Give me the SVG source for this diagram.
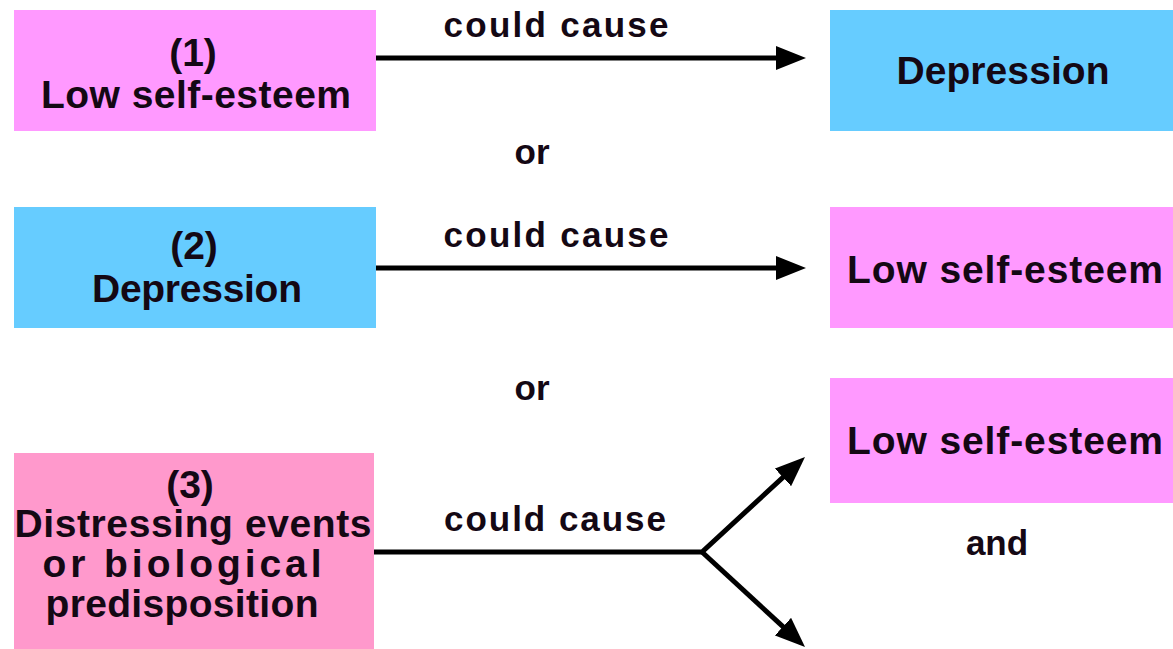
<svg xmlns="http://www.w3.org/2000/svg" width="1173" height="649" viewBox="0 0 1173 649">
<style>
text{font-family:"Liberation Sans",Arial,sans-serif;font-weight:bold;fill:#140814;text-anchor:middle}
.big{font-size:39px}
.lbl{font-size:35px}
.pink{fill:#FF99FF}
.blue{fill:#66CCFF}
.rose{fill:#FF99CC}
.conn{stroke:#000;stroke-width:5;fill:none;marker-end:url(#ah)}
</style>
<defs>
<marker id="ah" markerUnits="userSpaceOnUse" markerWidth="30" markerHeight="24" viewBox="0 0 30 24" refX="10" refY="12" orient="auto">
<path d="M0,0 L30,12 L0,24 Z" fill="#000"/>
</marker>
</defs>
<rect width="1173" height="649" fill="#fff"/>
<g id="node-1">
<rect class="pink" x="14" y="10" width="362" height="121"/>
<text class="big" x="193" y="66">(1)</text>
<text class="big" x="196" y="108" textLength="310" lengthAdjust="spacing">Low self-esteem</text>
</g>
<g id="node-depression-1">
<rect class="blue" x="830" y="10" width="343" height="121"/>
<text class="big" x="1003" y="84" textLength="213" lengthAdjust="spacing">Depression</text>
</g>
<g id="node-2">
<rect class="blue" x="14" y="207" width="362" height="121"/>
<text class="big" x="194" y="259">(2)</text>
<text class="big" x="197" y="302" textLength="210" lengthAdjust="spacing">Depression</text>
</g>
<g id="node-lse-2">
<rect class="pink" x="830" y="207" width="343" height="121"/>
<text class="big" x="1005" y="283" textLength="316" lengthAdjust="spacing">Low self-esteem</text>
</g>
<g id="node-3">
<rect class="rose" x="14" y="453" width="360" height="196"/>
<text class="big" x="190" y="498">(3)</text>
<text class="big" x="193" y="537" textLength="357" lengthAdjust="spacing">Distressing events</text>
<text class="big" x="182" y="577" textLength="279" lengthAdjust="spacing">or biological</text>
<text class="big" x="182" y="617" textLength="273" lengthAdjust="spacing">predisposition</text>
</g>
<g id="node-lse-3">
<rect class="pink" x="830" y="378" width="343" height="125"/>
<text class="big" x="1005" y="454" textLength="316" lengthAdjust="spacing">Low self-esteem</text>
</g>
<g id="connectors">
<path class="conn" d="M376,58 L786,58"/>
<path class="conn" d="M376,268 L786,268"/>
<path class="conn" d="M374,552 L702,552 L790.3,470.6"/>
<path class="conn" d="M702,552 L790.3,633.4"/>
</g>
<g id="labels">
<text class="lbl" x="556" y="37" textLength="225" lengthAdjust="spacing">could cause</text>
<text class="lbl" x="556" y="247" textLength="225" lengthAdjust="spacing">could cause</text>
<text class="lbl" x="555" y="531" textLength="222" lengthAdjust="spacing">could cause</text>
<text class="lbl" x="532" y="164">or</text>
<text class="lbl" x="532" y="400">or</text>
<text class="lbl" x="997" y="555">and</text>
</g>
</svg>
